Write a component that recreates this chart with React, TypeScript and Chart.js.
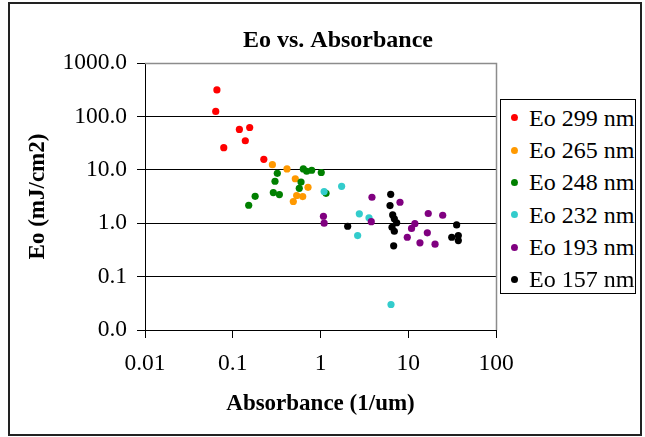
import React, { useEffect, useRef } from "react";
import { Chart, registerables } from "chart.js";

Chart.register(...registerables);

// ---- data ----
const seriesLabels = ["Eo 299 nm", "Eo 265 nm", "Eo 248 nm", "Eo 232 nm", "Eo 193 nm", "Eo 157 nm"];
const seriesColors = ["#FF0000", "#FF9900", "#008000", "#33CCCC", "#800080", "#000000"];

const eo299X = [0.066, 0.064, 0.119, 0.156, 0.139, 0.079, 0.226];
const eo299Y = [313, 124, 57, 62, 35, 26, 15.7];

const eo265X = [0.283, 0.415, 0.516, 0.721, 0.535, 0.627, 0.49];
const eo265Y = [12.5, 10.4, 6.8, 4.7, 3.3, 3.15, 2.55];

const eo248X = [0.322, 0.303, 0.29, 0.34, 0.18, 0.152, 0.637, 0.696, 0.794, 1.02, 0.6, 0.573, 1.156];
const eo248Y = [8.6, 6.1, 3.74, 3.43, 3.19, 2.17, 10.4, 9.4, 9.8, 8.9, 5.9, 4.5, 3.63];

const eo232X = [1.1, 1.74, 2.77, 3.57, 2.65, 6.36];
const eo232Y = [3.91, 4.91, 1.5, 1.26, 0.587, 0.03];

const eo193X = [1.08, 1.1, 3.86, 3.79, 8.05, 16.9, 24.7, 11.9, 10.9, 9.75, 16.5, 13.6, 20.2];
const eo193Y = [1.35, 1.0, 3.06, 1.07, 2.47, 1.52, 1.41, 0.98, 0.8, 0.546, 0.66, 0.429, 0.404];

const eo157X = [2.04, 6.31, 6.2, 6.65, 6.94, 7.38, 6.53, 6.94, 6.82, 35.6, 31.3, 37.2, 37.2];
const eo157Y = [0.877, 3.48, 2.14, 1.43, 1.21, 1.02, 0.84, 0.706, 0.377, 0.93, 0.546, 0.587, 0.473];

const xTickValues = [0.01, 0.1, 1, 10, 100];
const xTickLabels = ["0.01", "0.1", "1", "10", "100"];
const yTickValues = [0.01, 0.1, 1, 10, 100, 1000];
const yTickLabels = ["0.0", "0.1", "1.0", "10.0", "100.0", "1000.0"];

const seriesX = [eo299X, eo265X, eo248X, eo232X, eo193X, eo157X];
const seriesY = [eo299Y, eo265Y, eo248Y, eo232Y, eo193Y, eo157Y];

const FONT = "'Liberation Serif', 'Times New Roman', serif";

const plotFrame = {
  id: "plotFrame",
  beforeDatasetsDraw(chart: any) {
    const { ctx, chartArea: a } = chart;
    ctx.save();
    ctx.strokeStyle = "#8c8c8c";
    ctx.lineWidth = 1.5;
    ctx.beginPath();
    ctx.moveTo(a.left, a.top + 0.5);
    ctx.lineTo(a.right + 0.5, a.top + 0.5);
    ctx.lineTo(a.right + 0.5, a.bottom);
    ctx.stroke();
    ctx.restore();
  },
};

export default function App() {
  const canvasRef = useRef<HTMLCanvasElement | null>(null);

  useEffect(() => {
    if (!canvasRef.current) return;
    const datasets = seriesLabels.map((label, i) => ({
      label,
      data: seriesX[i].map((x, j) => ({ x, y: seriesY[i][j] })),
      backgroundColor: seriesColors[i],
      borderColor: seriesColors[i],
      pointRadius: 3.6,
      pointBorderWidth: 0,
      pointHoverRadius: 3.6,
      order: seriesLabels.length - i,
      clip: false as any,
    }));

    const chart = new Chart(canvasRef.current, {
      type: "scatter",
      data: { datasets },
      plugins: [plotFrame],
      options: {
        animation: false,
        responsive: false,
        events: [],
        layout: { padding: { left: 31, right: 0, top: 0, bottom: 0 } },
        plugins: {
          legend: { display: false },
          tooltip: { enabled: false },
          title: {
            display: true,
            text: "Eo vs. Absorbance",
            color: "#000",
            font: { family: FONT, size: 24, weight: "bold" },
            padding: { top: 26, bottom: 8.2 },
          },
        },
        scales: {
          x: {
            type: "logarithmic",
            position: "bottom",
            min: 0.01,
            max: 100,
            afterBuildTicks: (s: any) => {
              s.ticks = xTickValues.map((v) => ({ value: v }));
            },
            afterFit: (s: any) => {
              s.height = 107;
            },
            ticks: {
              autoSkip: false,
              maxRotation: 0,
              padding: 12,
              color: "#000",
              font: { family: FONT, size: 23.5 },
              callback: (_v: any, i: number) => xTickLabels[i],
            },
            grid: {
              drawOnChartArea: false,
              drawTicks: true,
              tickLength: 8,
              color: "#000",
              tickColor: "#000",
            },
            border: { display: true, color: "#000", width: 1 },
            title: {
              display: true,
              text: "Absorbance (1/um)",
              color: "#000",
              font: { family: FONT, size: 23, weight: "bold" },
              padding: { top: 0, bottom: 18.8 },
            },
          },
          y: {
            type: "logarithmic",
            position: "left",
            min: 0.01,
            max: 1000,
            afterBuildTicks: (s: any) => {
              s.ticks = yTickValues.map((v) => ({ value: v }));
            },
            afterFit: (s: any) => {
              s.width = 114;
            },
            ticks: {
              autoSkip: false,
              padding: 10,
              color: "#000",
              font: { family: FONT, size: 23.5 },
              callback: (_v: any, i: number) => yTickLabels[i],
            },
            grid: {
              drawOnChartArea: true,
              drawTicks: true,
              tickLength: 8,
              color: (c: any) => (c.tick && c.tick.value === 1000 ? "#8c8c8c" : "#000"),
              tickColor: "#000",
              lineWidth: 1,
            },
            border: { display: true, color: "#000", width: 1 },
            title: {
              display: true,
              text: "Eo (mJ/cm2)",
              color: "#000",
              font: { family: FONT, size: 23, weight: "bold" },
              padding: { top: -6.8, bottom: 0 },
            },
          },
          legendSpace: {
            type: "linear",
            position: "right",
            display: true,
            min: 0,
            max: 1,
            afterFit: (s: any) => {
              s.width = 149;
            },
            ticks: { display: false },
            grid: { display: false, drawTicks: false },
            border: { display: false },
          },
        },
      } as any,
    });
    return () => chart.destroy();
  }, []);

  return (
    <div style={{ position: "fixed", left: 0, top: 0, width: 645, height: 437, background: "#fff" }}>
      <canvas ref={canvasRef} width={645} height={437} style={{ position: "absolute", left: 0, top: 0, width: 645, height: 437 }} />
      <div
        style={{
          position: "absolute",
          left: 8,
          top: 2,
          width: 634,
          height: 434,
          border: "2px solid #222",
          boxSizing: "border-box",
          pointerEvents: "none",
        }}
      />
      <div
        style={{
          position: "absolute",
          left: 500,
          top: 99,
          width: 136,
          height: 195,
          border: "1px solid #000",
          boxSizing: "border-box",
          background: "#fff",
          fontFamily: FONT,
          fontSize: 24,
          color: "#000",
        }}
      >
        {seriesLabels.map((label, i) => (
          <div
            key={label}
            style={{
              position: "absolute",
              left: 0,
              top: 17.7 + i * 32.33 - 16,
              height: 32,
              lineHeight: "32px",
              width: 134,
              whiteSpace: "nowrap",
            }}
          >
            <span
              style={{
                position: "absolute",
                left: 9.5,
                top: 12.5,
                width: 7,
                height: 7,
                borderRadius: "50%",
                background: seriesColors[i],
              }}
            />
            <span style={{ position: "absolute", left: 28, top: 0 }}>{label}</span>
          </div>
        ))}
      </div>
    </div>
  );
}
